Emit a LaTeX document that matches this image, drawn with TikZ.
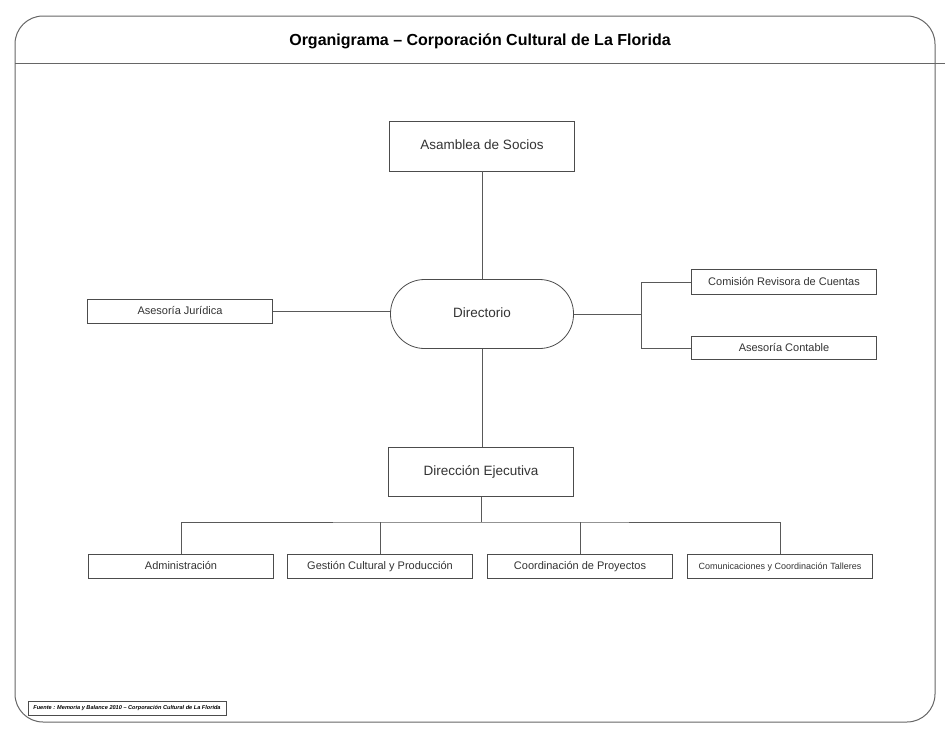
\documentclass[tikz,border=0pt]{standalone}
\usepackage{fontspec}
\setmainfont{Liberation Sans}
\begin{document}
\begin{tikzpicture}[x=1pt,y=-1pt,
  caja/.style={draw=black!70,line width=0.8pt,fill=white,text=black!80,minimum width=185pt,minimum height=24pt,text height=1.5ex,text depth=.3ex,font=\fontsize{11}{12}\selectfont},
  grande/.style={caja,minimum height=50pt,font=\fontsize{13.5}{15}\selectfont},
  linea/.style={draw=black!65,line width=0.8pt}]
\useasboundingbox (0,0) rectangle (945,731);
\draw[black!60,line width=1pt,rounded corners=28pt] (15,16) rectangle (935,722);
\draw[black!60,line width=1pt] (15,63) -- (945,63);
\node (titulo) at (480,41) {\fontsize{16}{18}\selectfont\bfseries Organigrama – Corporación Cultural de La Florida};

\node [grande] (asamblea) at (482,146) {Asamblea de Socios};
\node [grande,minimum width=183pt,minimum height=69pt,rounded corners=34pt] (dir) at (482,314) {Directorio};
\node [caja] (juridica) at (180,311) {Asesoría Jurídica};
\node [caja,minimum height=25pt] (comision) at (784,282) {Comisión Revisora de Cuentas};
\node [caja,minimum height=23pt] (contable) at (784,348) {Asesoría Contable};
\node [grande,minimum height=49pt] (ejecutiva) at (481,472) {Dirección Ejecutiva};

\node [caja] (admin) at (181,566) {Administración};
\node [caja] (gestion) at (380,566) {Gestión Cultural y Producción};
\node [caja] (proyectos) at (580,566) {Coordinación de Proyectos};
\node [caja,font=\fontsize{9}{10}\selectfont] (talleres) at (780,566) {Comunicaciones y Coordinación Talleres};

\draw [linea] (asamblea) -- (dir);
\draw [linea] (juridica.east) -- (juridica.east -| dir.west);
\draw [linea] (dir.east) -- ++(67,0) coordinate (derecha);
\draw [linea] (comision.west) -| (derecha) |- (contable.west);
\draw [linea] (dir.south) -- (dir.south |- ejecutiva.north);
\coordinate (bus) at (481,522);
\draw [linea] (ejecutiva.south) -- (bus);
\draw [linea] (admin.north) |- (bus) -| (talleres.north);
\foreach \n in {gestion,proyectos}
  \draw [linea] (\n.north) -- (\n.north |- bus);

\node [draw=black!70,line width=0.8pt,minimum width=198pt,minimum height=14pt,inner sep=1pt,font=\fontsize{5.6}{7}\selectfont\bfseries\itshape] (fuente) at (127,708) {Fuente : Memoria y Balance 2010 – Corporación Cultural de La Florida};
\end{tikzpicture}
\end{document}
